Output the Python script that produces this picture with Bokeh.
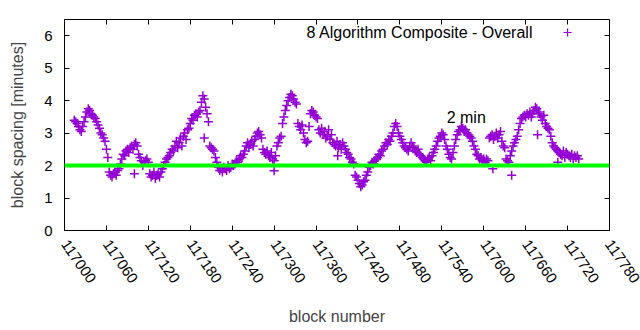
from bokeh.plotting import figure
from bokeh.models import Span, Label, LinearAxis, FixedTicker, BasicTickFormatter, Range1d
from bokeh.embed import file_html
from bokeh.resources import INLINE
import math

# ---- data ----
first_block = 117014
block_step = 2
spacing_minutes = [
    3.4, 3.35, 3.3, 3.2, 3.1, 3.05, 3.2,
    3.35, 3.5, 3.65, 3.75, 3.7, 3.6, 3.55, 3.5,
    3.45, 3.35, 3.25, 3.15, 3.0, 2.95, 2.85, 2.75,
    2.5, 2.25,
    1.8, 1.7, 1.65, 1.75, 1.8, 1.7, 1.85, 1.9,
    2.05, 2.2, 2.35, 2.3, 2.45, 2.5, 2.4, 2.55, 2.6, 2.5, 2.65, 2.7, 2.6,
    2.35, 2.25, 2.15, 2.0, 2.1, 2.15, 2.2, 2.1,
    1.75, 1.65, 1.7, 1.8, 1.6, 1.7, 1.75, 1.65, 1.8, 1.9,
    2.0, 2.1, 2.2, 2.25, 2.3, 2.4, 2.5, 2.45, 2.6, 2.75,
    2.55, 2.7, 2.85, 2.6, 2.9, 3.0, 2.8, 3.1,
    3.15, 3.3, 3.45, 3.4, 3.55, 3.6, 3.5, 3.65, 3.7,
    3.95, 4.15, 4.05, 3.8,
    3.6, 3.35,
    2.6, 2.55, 2.5, 2.45,
    2.25, 2.1, 1.95,
    1.85, 1.9, 1.8, 1.95, 1.9, 1.85, 2.0, 1.9, 1.95, 2.05,
    2.0, 2.05, 2.15, 2.1, 2.2, 2.3, 2.25, 2.35, 2.45,
    2.6, 2.7, 2.55, 2.65, 2.75, 2.6, 2.8, 2.9, 3.0, 3.05, 2.95, 2.85,
    2.5, 2.4, 2.35, 2.45, 2.3, 2.25, 2.4, 2.2, 2.15, 2.3,
    2.6, 2.7, 2.85, 2.9, 3.3,
    3.5, 3.7, 3.85, 4.0, 4.1, 4.2,
    4.15, 4.05, 3.95, 3.9,
    3.3, 3.2, 3.1, 3.25, 3.0, 2.8, 2.7, 2.75, 3.2,
    3.6, 3.7, 3.65, 3.55, 3.5, 3.45,
    3.1, 3.0, 3.15, 2.95, 3.05, 2.85, 2.9, 3.1, 2.8, 2.95,
    2.7, 2.65, 2.6, 2.75, 2.55, 2.65, 2.5, 2.7, 2.6,
    2.5, 2.4, 2.35, 2.25, 2.2, 2.1, 2.05,
    1.7, 1.65, 1.55, 1.45, 1.35, 1.4, 1.5, 1.55, 1.7,
    1.8, 1.95, 2.0, 2.1, 2.05, 2.15, 2.2, 2.25, 2.35, 2.3, 2.45, 2.5,
    2.6, 2.7, 2.65, 2.8, 2.75, 2.9, 3.0, 3.2, 3.3,
    3.2, 3.0, 2.9, 2.8, 2.7, 2.6, 2.55, 2.5, 2.45, 2.6,
    2.7, 2.6, 2.55, 2.45, 2.4, 2.5, 2.35, 2.3, 2.25,
    2.2, 2.15, 2.1, 2.2, 2.25, 2.15, 2.3,
    2.4, 2.5, 2.6, 2.75, 2.85, 2.9, 3.0, 2.95, 2.8,
    2.6, 2.5, 2.35, 2.25, 2.2, 2.4,
    2.6, 2.8, 2.95, 3.05, 3.1, 3.2, 3.15, 3.05,
    3.1, 3.0, 2.95, 2.9, 2.85, 2.75, 2.6,
    2.5, 2.35, 2.3, 2.2, 2.25, 2.15, 2.2, 2.1, 2.2, 2.15,
    2.85, 2.9, 2.95, 2.8, 2.9, 3.0, 2.85, 2.95, 3.05,
    2.75, 2.6, 2.55, 2.2, 2.15, 2.1,
    2.3, 2.45, 2.6, 2.7, 2.8, 2.9,
    3.1, 3.3, 3.45, 3.5, 3.55, 3.5, 3.6, 3.55, 3.65, 3.5, 3.6, 3.7, 3.8, 3.75, 3.65,
    3.6, 3.5, 3.4, 3.55, 3.3, 3.2, 3.15, 3.1,
    2.9, 2.7, 2.6, 2.55, 2.5, 2.45,
    2.4, 2.35, 2.3, 2.45, 2.25, 2.4, 2.35, 2.3, 2.25, 2.35, 2.2, 2.3, 2.25, 2.3, 2.2,
]
blocks = [first_block + block_step * i for i in range(len(spacing_minutes))]

# stray points
extra_blocks = [117100, 117200, 117300, 117391, 117613, 117640, 117677, 117706]
extra_minutes = [1.75, 2.85, 1.84, 2.3, 1.9, 1.7, 2.95, 2.1]

target_minutes = 2
x_ticks = [117000, 117060, 117120, 117180, 117240, 117300, 117360, 117420,
           117480, 117540, 117600, 117660, 117720, 117780]
y_ticks = [0, 1, 2, 3, 4, 5, 6]
series_name = "8 Algorithm Composite - Overall"
target_label = "2 min"

FONT = "Liberation Sans"
PURPLE = "#9400D3"

p = figure(width=640, height=330, output_backend="svg", toolbar_location=None,
           x_range=Range1d(117000, 117780), y_range=Range1d(0, 6.5),
           min_border_left=64, min_border_right=31, min_border_top=19, min_border_bottom=100,
           x_axis_label="block number", y_axis_label="block spacing [minutes]")
p.background_fill_color = "white"
p.border_fill_color = "white"
p.outline_line_color = "black"
p.outline_line_width = 1
p.xgrid.visible = False
p.ygrid.visible = False

p.scatter(blocks, spacing_minutes, marker="cross", size=9, line_width=1.5, line_color=PURPLE)
p.scatter(extra_blocks, extra_minutes, marker="cross", size=9, line_width=1.5, line_color=PURPLE)

p.add_layout(Span(location=target_minutes, dimension="width", line_color="#00FF00", line_width=4))

for ax in (p.xaxis[0], p.yaxis[0]):
    ax.axis_line_color = None
    ax.major_tick_in = 5
    ax.major_tick_out = 0
    ax.minor_tick_line_color = None
    ax.major_label_text_font = FONT
    ax.major_label_text_font_size = "15px"
    ax.axis_label_text_font = FONT
    ax.axis_label_text_font_size = "16px"
    ax.axis_label_text_font_style = "normal"
    ax.major_label_text_color = "black"

p.xaxis[0].ticker = FixedTicker(ticks=x_ticks)
p.xaxis[0].formatter = BasicTickFormatter(use_scientific=False)
p.xaxis[0].major_label_orientation = -55 * math.pi / 180
p.xaxis[0].major_label_standoff = 11
p.xaxis[0].axis_label_standoff = 18
p.yaxis[0].ticker = FixedTicker(ticks=y_ticks)
p.yaxis[0].major_label_standoff = 12
p.yaxis[0].axis_label_standoff = 15

top = LinearAxis(ticker=FixedTicker(ticks=x_ticks), axis_line_color=None, major_tick_in=5,
                 major_tick_out=0, minor_tick_line_color=None, major_label_standoff=0,
                 major_label_overrides={t: "" for t in x_ticks})
right = LinearAxis(ticker=FixedTicker(ticks=y_ticks), axis_line_color=None, major_tick_in=5,
                   major_tick_out=0, minor_tick_line_color=None, major_label_standoff=0,
                   major_label_overrides={t: "" for t in y_ticks})
p.add_layout(top, "above")
p.add_layout(right, "right")

# "2 min" label
p.add_layout(Label(x=117547, y=3.49, text=target_label, text_font=FONT, text_font_size="16px",
                   text_baseline="middle", text_align="left", text_color="black"))

# key (gnuplot style: text then sample)
p.add_layout(Label(x=117671, y=6.1, text=series_name, text_font=FONT, text_font_size="16px",
                   text_baseline="middle", text_align="right", text_color="black"))
p.scatter([117720], [6.1], marker="cross", size=8, line_width=1.2, line_color=PURPLE)

open("out.html", "w").write(file_html(p, INLINE))
